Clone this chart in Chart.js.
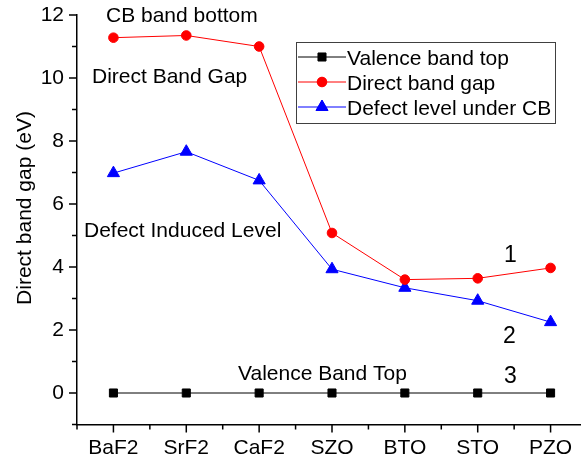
<!DOCTYPE html>
<html>
<head>
<meta charset="utf-8">
<script src="https://cdn.jsdelivr.net/npm/chart.js@4"></script>
<style>
  html, body { margin: 0; padding: 0; background: #fff; overflow: hidden; }
  canvas { display: block; }
</style>
</head>
<body>
<canvas id="bandChart" width="600" height="465"></canvas>
<script>
const FONT = "'Liberation Sans', Arial, sans-serif";

// ── Data ────────────────────────────────────────────────────
const materials   = ['BaF2', 'SrF2', 'CaF2', 'SZO', 'BTO', 'STO', 'PZO'];
const valenceTop  = [0, 0, 0, 0, 0, 0, 0];
const directGap   = [11.28, 11.35, 11.0, 5.08, 3.6, 3.64, 3.97];
const defectLevel = [6.98, 7.66, 6.75, 3.93, 3.34, 2.93, 2.25];
const yMajorTicks = [0, 2, 4, 6, 8, 10, 12];
const yMinorTicks = [-1, 1, 3, 5, 7, 9, 11];

// text labels placed on the plot (left x, baseline y, font size)
const notes = [
  { text: 'CB band bottom',       x: 106, y: 22,  size: 21 },
  { text: 'Direct Band Gap',      x: 92,  y: 83,  size: 21 },
  { text: 'Defect Induced Level', x: 84,  y: 237, size: 21 },
  { text: 'Valence Band Top',     x: 238, y: 380, size: 21 },
  { text: '1', x: 504, y: 262, size: 23 },
  { text: '2', x: 503, y: 343, size: 23 },
  { text: '3', x: 504, y: 383, size: 23 },
];

// ── Decorations: tick marks, axis title, notes, legend box ─
const decor = {
  id: 'decor',
  afterDraw(chart) {
    const { ctx, chartArea: a, scales: { x, y } } = chart;
    ctx.save();
    ctx.strokeStyle = '#000';
    ctx.lineWidth = 1.5;
    ctx.beginPath();
    yMajorTicks.forEach(v => { const p = y.getPixelForValue(v); ctx.moveTo(a.left - 8, p); ctx.lineTo(a.left, p); });
    yMinorTicks.forEach(v => { const p = y.getPixelForValue(v); ctx.moveTo(a.left - 5, p); ctx.lineTo(a.left, p); });
    materials.forEach((m, i) => {
      const p = x.getPixelForValue(i);
      ctx.moveTo(p, a.bottom); ctx.lineTo(p, a.bottom + 8);
    });
    for (let i = 0; i <= materials.length; i++) {
      const p = x.getPixelForValue(i - 0.5);
      ctx.moveTo(p, a.bottom); ctx.lineTo(p, a.bottom + 5);
    }
    ctx.stroke();

    // y axis title
    ctx.fillStyle = '#000';
    ctx.font = '21px ' + FONT;
    ctx.save();
    ctx.translate(31, 208);
    ctx.rotate(-Math.PI / 2);
    ctx.textAlign = 'center';
    ctx.textBaseline = 'alphabetic';
    ctx.fillText('Direct band gap (eV)', 0, 0);
    ctx.restore();

    // notes
    ctx.textAlign = 'left';
    ctx.textBaseline = 'alphabetic';
    notes.forEach(n => {
      ctx.font = n.size + 'px ' + FONT;
      ctx.fillText(n.text, n.x, n.y);
    });

    // legend
    ctx.strokeStyle = '#404040';
    ctx.lineWidth = 1;
    ctx.strokeRect(296.5, 42.5, 259, 81);
    chart.data.datasets.forEach((ds, i) => {
      const cy = 57 + i * 25;
      ctx.strokeStyle = ds.borderColor;
      ctx.lineWidth = 1;
      ctx.beginPath();
      ctx.moveTo(298, cy); ctx.lineTo(346, cy);
      ctx.stroke();
      ctx.fillStyle = ds.backgroundColor;
      Chart.helpers.drawPoint(ctx, { pointStyle: ds.pointStyle, radius: ds.pointRadius, borderWidth: 1 }, 322, cy);
      ctx.fill();
      ctx.fillStyle = '#000';
      ctx.font = '21px ' + FONT;
      ctx.fillText(ds.label, 347, cy + 7.5);
    });
    ctx.restore();
  }
};

new Chart(document.getElementById('bandChart'), {
  type: 'line',
  data: {
    labels: materials,
    datasets: [
      { label: 'Valence band top', data: valenceTop,
        borderColor: '#000000', backgroundColor: '#000000',
        pointStyle: 'rect', pointRadius: 5.7, borderWidth: 1 },
      { label: 'Direct band gap', data: directGap,
        borderColor: '#ff0000', backgroundColor: '#ff0000',
        pointStyle: 'circle', pointRadius: 4.8, borderWidth: 1 },
      { label: 'Defect level under CB', data: defectLevel,
        borderColor: '#0000ff', backgroundColor: '#0000ff',
        pointStyle: 'triangle', pointRadius: 7, borderWidth: 1 },
    ]
  },
  options: {
    responsive: false, animation: false, devicePixelRatio: 1,
    layout: { padding: { left: 0, top: 15, right: 13, bottom: 0 } },
    elements: { line: { tension: 0 }, point: { borderWidth: 1, hoverRadius: 5 } },
    plugins: { legend: { display: false }, tooltip: { enabled: false } },
    scales: {
      x: {
        type: 'category', offset: true,
        grid: { display: true, drawOnChartArea: false, drawTicks: true, tickLength: 11, tickColor: 'rgba(0,0,0,0)' },
        border: { display: true, color: '#000', width: 1.5 },
        ticks: { color: '#000', font: { family: FONT, size: 21 }, padding: 0, maxRotation: 0, autoSkip: false },
        afterFit: s => { s.height = 40.5; }
      },
      y: {
        min: -1, max: 12,
        grid: { display: true, drawOnChartArea: false, drawTicks: true, tickLength: 13, tickColor: 'rgba(0,0,0,0)' },
        border: { display: true, color: '#000', width: 1.5 },
        ticks: { color: '#000', font: { family: FONT, size: 21 }, padding: 0,
                 stepSize: 1, callback: v => (v >= 0 && v % 2 === 0) ? v : '' },
        afterFit: s => { s.width = 77; }
      }
    }
  },
  plugins: [decor]
});
</script>
</body>
</html>
